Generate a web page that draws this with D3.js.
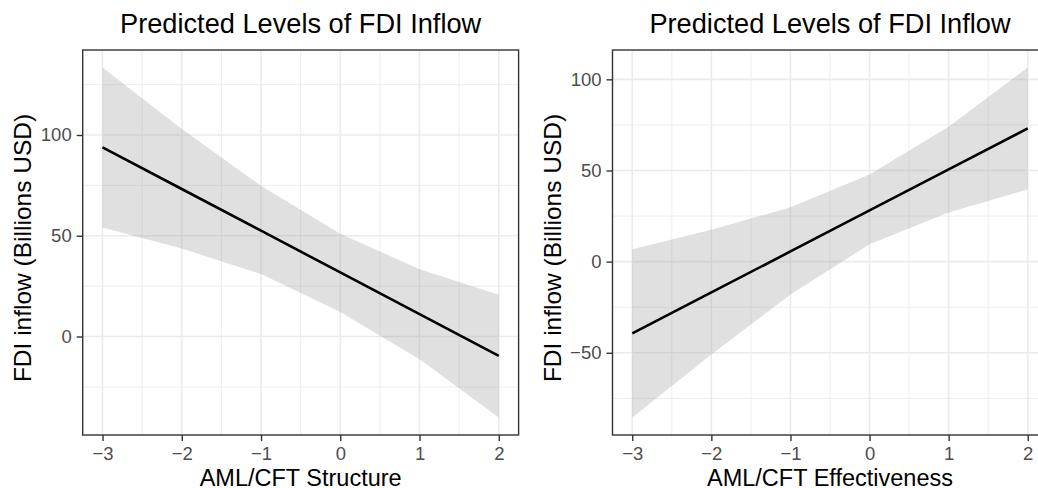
<!DOCTYPE html>
<html>
<head>
<meta charset="utf-8">
<script src="https://cdn.jsdelivr.net/npm/d3@7"></script>
<style>
  body { margin: 0; background: #fff; }
  svg { display: block; font-family: "Liberation Sans", Arial, sans-serif; }
</style>
</head>
<body>
<div id="wrapper"></div>
<script>
// predicted values at each x
const xValues = [-3, -2, -1, 0, 1, 2]

const structureFit = [93.9, 73.2, 52.5, 31.8, 11.1, -9.6]
const structureHigh = [133.5, 103, 74.8, 51, 33.4, 20.7]
const structureLow = [54.1, 43.7, 31, 12.1, -11.3, -40.2]

const effectFit = [-39.4, -16.9, 5.6, 28.1, 50.6, 73.1]
const effectHigh = [6.8, 17.5, 29.8, 47.8, 74, 106.5]
const effectLow = [-85.5, -51, -18, 9.5, 27, 39.6]

const xTicks = [-3, -2, -1, 0, 1, 2]
const structureYTicks = [0, 50, 100]
const effectYTicks = [-50, 0, 50, 100]

const plotTitle = "Predicted Levels of FDI Inflow"
const yTitle = "FDI inflow (Billions USD)"

function drawChart() {

  // 1. dimensions
  let dimensions = {
    width: 1038,
    height: 488,
    panelTop: 50,
    panelBottom: 435,
  }

  const panels = [
    {
      left: 82.7, right: 518.6, yTitleX: 31,
      xTitle: "AML/CFT Structure",
      fit: structureFit, high: structureHigh, low: structureLow,
      yTicks: structureYTicks,
    },
    {
      left: 612.5, right: 1047.5, yTitleX: 561,
      xTitle: "AML/CFT Effectiveness",
      fit: effectFit, high: effectHigh, low: effectLow,
      yTicks: effectYTicks,
    },
  ]

  // 2. canvas
  const wrapper = d3.select("#wrapper")
    .append("svg")
      .attr("width", dimensions.width)
      .attr("height", dimensions.height)

  // ggplot style 5% expansion
  const expand = ([a, b]) => {
    const pad = (b - a) * 0.05
    return [a - pad, b + pad]
  }

  panels.forEach((p, idx) => {
    const rows = xValues.map((x, i) => ({x, fit: p.fit[i], high: p.high[i], low: p.low[i]}))

    // 3. scales
    const xScale = d3.scaleLinear()
      .domain(expand(d3.extent(xValues)))
      .range([p.left, p.right])

    const yScale = d3.scaleLinear()
      .domain(expand([d3.min(p.low), d3.max(p.high)]))
      .range([dimensions.panelBottom, dimensions.panelTop])

    const g = wrapper.append("g")

    const clipId = "clip" + idx
    g.append("clipPath")
      .attr("id", clipId)
      .append("rect")
        .attr("x", p.left)
        .attr("y", dimensions.panelTop)
        .attr("width", p.right - p.left)
        .attr("height", dimensions.panelBottom - dimensions.panelTop)

    const grid = g.append("g").attr("clip-path", `url(#${clipId})`)

    // minor grid
    const xMinor = d3.range(xTicks[0] + 0.5, xTicks[xTicks.length - 1], 1)
    const yStep = p.yTicks[1] - p.yTicks[0]
    const yMinor = d3.range(p.yTicks[0] - yStep / 2, p.yTicks[p.yTicks.length - 1] + yStep, yStep)

    grid.selectAll(".xminor")
      .data(xMinor)
      .join("line")
        .attr("x1", d => xScale(d))
        .attr("x2", d => xScale(d))
        .attr("y1", dimensions.panelTop)
        .attr("y2", dimensions.panelBottom)
        .attr("stroke", "#ebebeb")
        .attr("stroke-width", 0.9)

    grid.selectAll(".yminor")
      .data(yMinor)
      .join("line")
        .attr("x1", p.left)
        .attr("x2", p.right)
        .attr("y1", d => yScale(d))
        .attr("y2", d => yScale(d))
        .attr("stroke", "#ebebeb")
        .attr("stroke-width", 0.9)

    // major grid
    grid.selectAll(".xmajor")
      .data(xTicks)
      .join("line")
        .attr("x1", d => xScale(d))
        .attr("x2", d => xScale(d))
        .attr("y1", dimensions.panelTop)
        .attr("y2", dimensions.panelBottom)
        .attr("stroke", "#ebebeb")
        .attr("stroke-width", 1.6)

    grid.selectAll(".ymajor")
      .data(p.yTicks)
      .join("line")
        .attr("x1", p.left)
        .attr("x2", p.right)
        .attr("y1", d => yScale(d))
        .attr("y2", d => yScale(d))
        .attr("stroke", "#ebebeb")
        .attr("stroke-width", 1.6)

    // 4. data
    const area = d3.area()
      .x(d => xScale(d.x))
      .y0(d => yScale(d.low))
      .y1(d => yScale(d.high))

    grid.append("path")
      .datum(rows)
      .attr("d", area)
      .attr("fill", "#999999")
      .attr("fill-opacity", 0.3)

    const line = d3.line()
      .x(d => xScale(d.x))
      .y(d => yScale(d.fit))

    grid.append("path")
      .datum(rows)
      .attr("d", line)
      .attr("fill", "none")
      .attr("stroke", "#000")
      .attr("stroke-width", 2.6)

    // panel border
    g.append("rect")
      .attr("x", p.left)
      .attr("y", dimensions.panelTop)
      .attr("width", p.right - p.left)
      .attr("height", dimensions.panelBottom - dimensions.panelTop)
      .attr("fill", "none")
      .attr("stroke", "#333333")
      .attr("stroke-width", 1.4)

    // 5. axes
    const xAxis = d3.axisBottom(xScale)
      .tickValues(xTicks)
      .tickSize(6)
      .tickPadding(6)
      .tickFormat(d => d < 0 ? "\u2212" + Math.abs(d) : d)

    const xAxisGroup = g.append("g")
      .attr("transform", `translate(0,${dimensions.panelBottom})`)
      .call(xAxis)
    xAxisGroup.select(".domain").remove()
    xAxisGroup.selectAll(".tick line").attr("stroke", "#333333").attr("stroke-width", 1.4)
    xAxisGroup.selectAll(".tick text")
      .attr("fill", "#4d4d4d")
      .style("font-size", "18.5px")
      .style("font-family", "'Liberation Sans', Arial, sans-serif")

    const yAxis = d3.axisLeft(yScale)
      .tickValues(p.yTicks)
      .tickSize(6)
      .tickPadding(5)
      .tickFormat(d => d < 0 ? "\u2212" + Math.abs(d) : d)

    const yAxisGroup = g.append("g")
      .attr("transform", `translate(${p.left},0)`)
      .call(yAxis)
    yAxisGroup.select(".domain").remove()
    yAxisGroup.selectAll(".tick line").attr("stroke", "#333333").attr("stroke-width", 1.4)
    yAxisGroup.selectAll(".tick text")
      .attr("fill", "#4d4d4d")
      .style("font-size", "18.5px")
      .style("font-family", "'Liberation Sans', Arial, sans-serif")

    // 6. titles
    g.append("text")
      .attr("x", (p.left + p.right) / 2)
      .attr("y", 33)
      .attr("text-anchor", "middle")
      .style("font-size", "27.2px")
      .attr("fill", "#000")
      .text(plotTitle)

    g.append("text")
      .attr("x", (p.left + p.right) / 2)
      .attr("y", 486)
      .attr("text-anchor", "middle")
      .style("font-size", "23.5px")
      .attr("fill", "#000")
      .text(p.xTitle)

    g.append("text")
      .attr("transform", `translate(${p.yTitleX},248) rotate(-90)`)
      .attr("text-anchor", "middle")
      .style("font-size", "24.5px")
      .attr("fill", "#000")
      .text(yTitle)
  })
}

drawChart()
</script>
</body>
</html>
